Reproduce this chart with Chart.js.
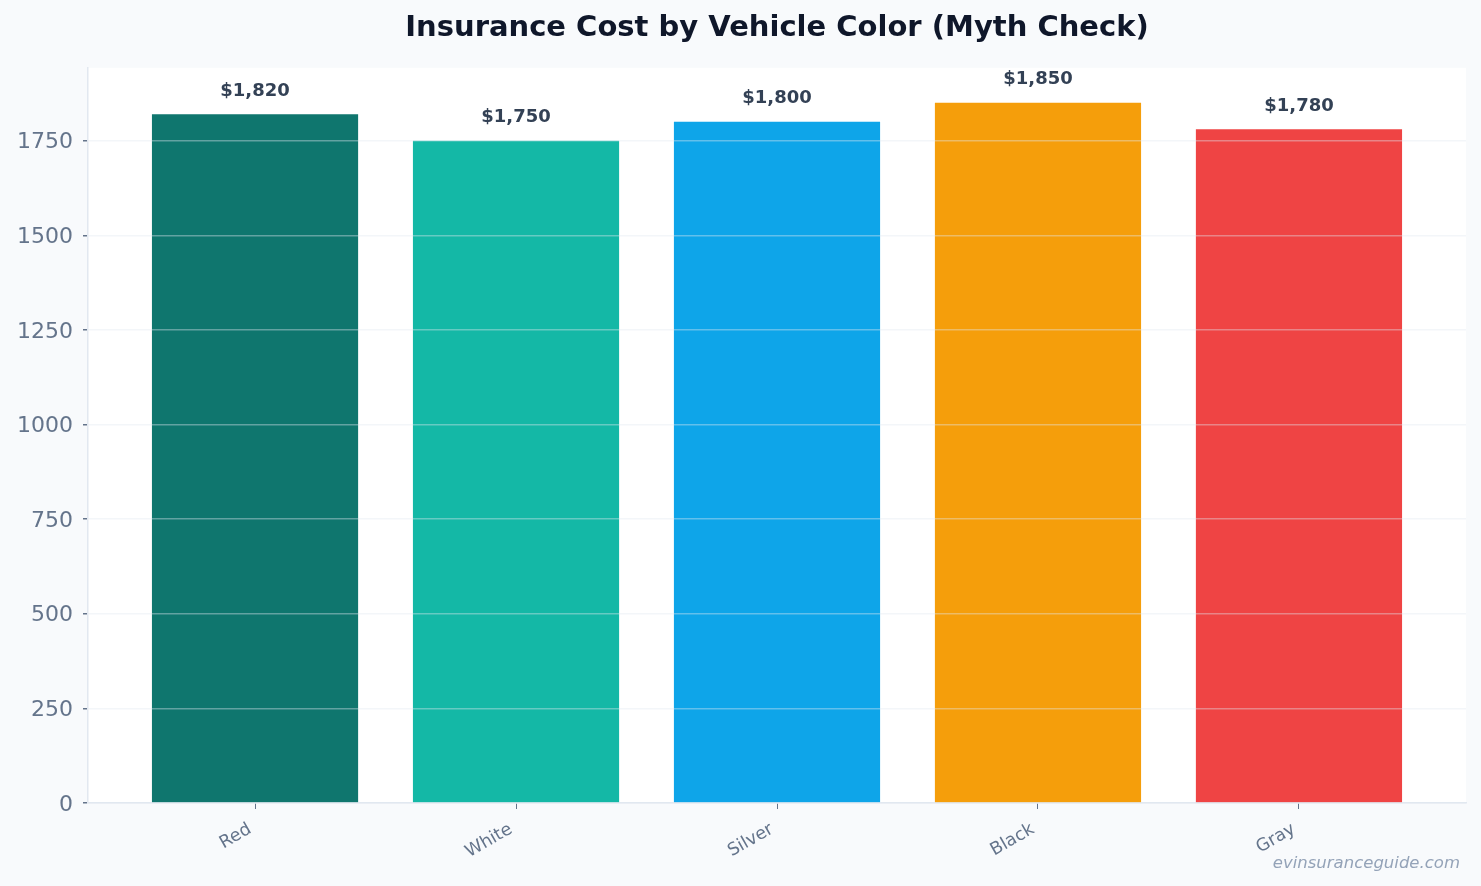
<!DOCTYPE html>
<html lang="en">
<head>
    <meta charset="UTF-8">
    <title>Insurance Cost by Vehicle Color (Myth Check)</title>
    <script src="https://cdn.jsdelivr.net/npm/chart.js"></script>
    <style>
        * { margin: 0; padding: 0; box-sizing: border-box; }
        body { background: #f8fafc; width: 1481px; height: 886px; overflow: hidden; }
        canvas { display: block; }
    </style>
</head>
<body>
    <canvas id="chart" width="1481" height="886"></canvas>

    <script>
        // Data
        const categories = ['Red', 'White', 'Silver', 'Black', 'Gray'];
        const costs = [1820, 1750, 1800, 1850, 1780];
        const barColors = ['#0f766e', '#14b8a6', '#0ea5e9', '#f59e0b', '#ef4444'];
        const yTicks = [0, 250, 500, 750, 1000, 1250, 1500, 1750];
        const yMax = 1942.5;

        const FONT = "'DejaVu Sans', sans-serif";

        // plot area background + watermark + value labels
        const decorPlugin = {
            id: 'decor',
            beforeDraw(chart) {
                const { ctx, chartArea: a } = chart;
                ctx.save();
                ctx.fillStyle = '#f8fafc';
                ctx.fillRect(0, 0, chart.width, chart.height);
                ctx.fillStyle = '#ffffff';
                ctx.fillRect(a.left, a.top, a.right - a.left, a.bottom - a.top);
                ctx.restore();
            },
            afterDraw(chart) {
                const ctx = chart.ctx;
                const meta = chart.getDatasetMeta(0);
                ctx.save();
                ctx.font = 'bold 18px ' + FONT;
                ctx.fillStyle = '#334155';
                ctx.textAlign = 'center';
                ctx.textBaseline = 'middle';
                meta.data.forEach((bar, i) => {
                    ctx.fillText('$' + costs[i].toLocaleString('en-US'), bar.x, bar.y - 23);
                });
                ctx.font = 'italic 16.5px ' + FONT;
                ctx.fillStyle = '#94a3b8';
                ctx.textAlign = 'right';
                ctx.textBaseline = 'alphabetic';
                ctx.fillText('evinsuranceguide.com', 1460, 868);
                ctx.restore();
            }
        };

        new Chart(document.getElementById('chart'), {
            type: 'bar',
            data: {
                datasets: [{
                    data: categories.map((c, i) => ({ x: i, y: costs[i] })),
                    backgroundColor: barColors,
                    borderWidth: 0,
                    barPercentage: 0.79,
                    categoryPercentage: 1.0
                }]
            },
            options: {
                responsive: false,
                animation: false,
                layout: { padding: { left: 0, right: 15, top: 0, bottom: 0 } },
                plugins: {
                    legend: { display: false },
                    tooltip: { enabled: false },
                    title: {
                        display: true,
                        fullSize: false,
                        text: 'Insurance Cost by Vehicle Color (Myth Check)',
                        color: '#0f172a',
                        font: { family: FONT, size: 29, weight: 'bold' },
                        padding: { top: 11, bottom: 22 }
                    }
                },
                scales: {
                    x: {
                        type: 'linear',
                        min: -0.64,
                        max: 4.64,
                        offset: false,
                        afterBuildTicks: (scale) => {
                            scale.ticks = categories.map((c, i) => ({ value: i }));
                        },
                        afterFit: (scale) => { scale.height = 83; },
                        ticks: {
                            autoSkip: false,
                            minRotation: 30,
                            maxRotation: 30,
                            padding: 10,
                            labelOffset: -5,
                            color: '#64748b',
                            font: { family: FONT, size: 17.5 },
                            callback: (v) => categories[v]
                        },
                        grid: {
                            offset: false,
                            drawOnChartArea: false,
                            tickLength: 6,
                            tickColor: '#64748b'
                        },
                        border: { color: '#e2e8f0', width: 1.5 }
                    },
                    y: {
                        min: 0,
                        max: yMax,
                        afterBuildTicks: (scale) => {
                            scale.ticks = yTicks.map(v => ({ value: v }));
                        },
                        afterFit: (scale) => { scale.width = 88; },
                        ticks: {
                            padding: 10,
                            labelOffset: 2,
                            color: '#64748b',
                            font: { family: FONT, size: 22 },
                            callback: (v) => String(v)
                        },
                        grid: {
                            z: 1,
                            color: 'rgba(226, 232, 240, 0.4)',
                            lineWidth: 1.5,
                            tickLength: 5,
                            tickColor: '#64748b'
                        },
                        border: { z: 2, color: '#e2e8f0', width: 1.5 }
                    }
                }
            },
            plugins: [decorPlugin]
        });
    </script>
</body>
</html>
